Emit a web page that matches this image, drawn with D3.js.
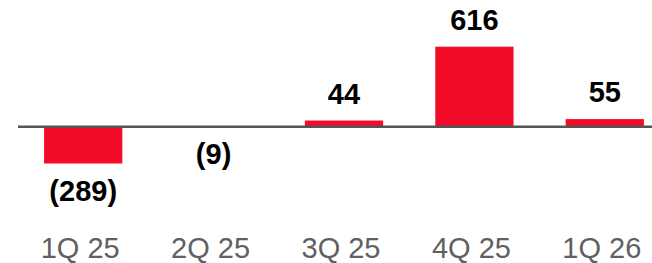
<!DOCTYPE html>
<html>
<head>
<meta charset="utf-8">
<script src="https://cdn.jsdelivr.net/npm/d3@7"></script>
<style>
  html, body { margin: 0; padding: 0; background: #fff; }
  svg { display: block; }
</style>
</head>
<body>
<div id="chart"></div>
<script>
const categories = ["1Q 25", "2Q 25", "3Q 25", "4Q 25", "1Q 26"];
const values = [-289, -9, 44, 616, 55];

const width = 652, height = 263;
const barColor = "#f20c27";

// format negatives in parentheses
function fmt(v) {
    return v < 0 ? "(" + Math.abs(v) + ")" : String(v);
}

const svg = d3.select("#chart")
    .append("svg")
        .attr("width", width)
        .attr("height", height);

const x = d3.scaleBand()
    .domain(categories)
    .range([18, 670])
    .paddingInner(0.4)
    .paddingOuter(0.2);

const y = d3.scaleLinear()
    .domain([-289, 616])
    .range([163.5, 46.7]);

const data = categories.map((c, i) => ({cat: c, val: values[i]}));

svg.append("g")
    .selectAll("rect")
    .data(data)
    .enter().append("rect")
        .attr("x", d => x(d.cat))
        .attr("y", d => y(Math.max(0, d.val)))
        .attr("width", x.bandwidth())
        .attr("height", d => Math.abs(y(d.val) - y(0)))
        .attr("fill", barColor);

// zero line
svg.append("line")
    .attr("x1", 18)
    .attr("x2", width)
    .attr("y1", y(0) + 0.5)
    .attr("y2", y(0) + 0.5)
    .attr("stroke", "#555")
    .attr("stroke-width", 2.4);

// value labels
svg.append("g")
    .selectAll("text")
    .data(data)
    .enter().append("text")
        .attr("x", d => x(d.cat) + x.bandwidth() / 2)
        .attr("y", d => d.val < 0 ? y(d.val) + 37 : y(d.val) - 17)
        .attr("text-anchor", "middle")
        .attr("font-family", "'Liberation Sans', Arial, sans-serif")
        .attr("font-weight", "bold")
        .attr("font-size", 29)
        .attr("fill", "#000")
        .text(d => fmt(d.val));

// category axis
const axis = svg.append("g")
    .attr("transform", "translate(0, 237)")
    .call(d3.axisBottom(x).tickSize(0).tickPadding(0));
axis.select(".domain").remove();
axis.selectAll("text")
    .attr("dx", -3)
    .attr("font-family", "'Liberation Sans', Arial, sans-serif")
    .attr("font-size", 29)
    .attr("fill", "#606060");
</script>
</body>
</html>
